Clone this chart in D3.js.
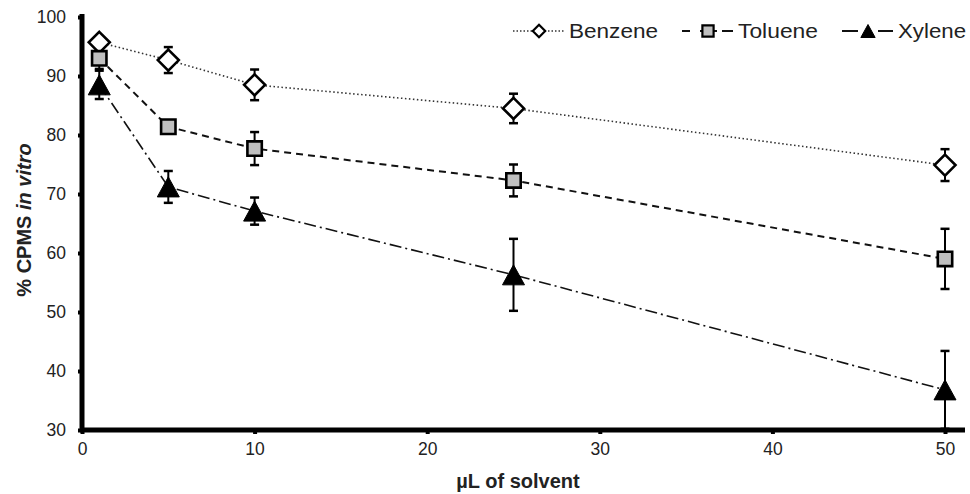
<!DOCTYPE html>
<html><head><meta charset="utf-8">
<script src="https://cdn.jsdelivr.net/npm/d3@7"></script>
<style>body{margin:0;background:#fff}svg{display:block}text{font-family:"Liberation Sans",Arial,sans-serif}</style>
</head><body><svg id="c" width="970" height="494"></svg>
<script>
const xValues = [1, 5, 10, 25, 50];
const seriesNames = ["Benzene", "Toluene", "Xylene"];
const benzene = [95.7, 92.7, 88.5, 84.5, 74.9];
const benzeneErr = [1.0, 2.2, 2.6, 2.5, 2.7];
const toluene = [93.0, 81.4, 77.7, 72.3, 59.0];
const tolueneErr = [1.8, 1.0, 2.8, 2.7, 5.1];
const xylene = [88.5, 71.2, 67.1, 56.3, 36.8];
const xyleneErr = [2.4, 2.7, 2.3, 6.1, 6.6];
const xTicks = [0, 10, 20, 30, 40, 50];
const yTicks = [30, 40, 50, 60, 70, 80, 90, 100];

const svg = d3.select("#c");
const x = d3.scaleLinear().domain([0, 50]).range([82, 945]);
const y = d3.scaleLinear().domain([30, 100]).range([430, 17]);

// marker shapes (unit paths, scaled by r)
const shapes = {
  diamond: r => `M0,${-r}L${r},0L0,${r}L${-r},0Z`,
  square: r => `M${-r},${-r}H${r}V${r}H${-r}Z`,
  triangle: r => `M0,${-r}L${r * 1.1},${r}L${-r * 1.1},${r}Z`
};
const styles = {
  Benzene: {dash: "1.5,2.5", width: 1.6, color: "#333", shape: "diamond", r: 10.5, fill: "#fff", stroke: "#000", sw: 2.6, legDash: "1.5,2", legR: 6.2},
  Toluene: {dash: "7,5", width: 2, color: "#111", shape: "square", r: 7.2, fill: "#c0c0c0", stroke: "#000", sw: 2.6, legDash: "8,10,17,5,11", legR: 5.6},
  Xylene: {dash: "12,4,2,4", width: 1.6, color: "#111", shape: "triangle", r: 10, fill: "#000", stroke: "#000", sw: 1, legDash: "16,20,15", legR: 6.5}
};
const data = [
  {name: "Benzene", vals: benzene, err: benzeneErr},
  {name: "Toluene", vals: toluene, err: tolueneErr},
  {name: "Xylene", vals: xylene, err: xyleneErr}
];

// axes
const yAxis = d3.axisLeft(y).tickValues(yTicks).tickSize(4).tickPadding(12);
const xAxis = d3.axisBottom(x).tickValues(xTicks).tickSize(4).tickPadding(9);
const gy = svg.append("g").attr("transform", "translate(82,0)").call(yAxis);
const gx = svg.append("g").attr("transform", "translate(0,430)").call(xAxis);
[gy, gx].forEach(g => {
  g.select(".domain").remove();
  g.selectAll(".tick line").attr("stroke", "#000").attr("stroke-width", 4);
  g.selectAll(".tick text").attr("font-size", 17.5).attr("fill", "#222").style("font-family", "Liberation Sans, Arial, sans-serif");
});
svg.append("line").attr("x1", 82).attr("x2", 82).attr("y1", y(100) - 3).attr("y2", 432).attr("stroke", "#000").attr("stroke-width", 5);
svg.append("line").attr("x1", 80).attr("x2", 965).attr("y1", 430).attr("y2", 430).attr("stroke", "#000").attr("stroke-width", 5);

// titles
svg.append("text").attr("x", 518).attr("y", 488).attr("text-anchor", "middle").attr("font-size", 20).attr("font-weight", "bold").attr("fill", "#222").text("µL of solvent");
const yt = svg.append("text").attr("transform", "translate(31,220) rotate(-90)").attr("text-anchor", "middle").attr("font-size", 20).attr("font-weight", "bold").attr("fill", "#222");
yt.append("tspan").text("% CPMS ");
yt.append("tspan").attr("font-style", "italic").text("in vitro");

// lines
const line = d3.line().x((d, i) => x(xValues[i])).y(d => y(d));
data.forEach(s => {
  const st = styles[s.name];
  svg.append("path").datum(s.vals).attr("d", line).attr("fill", "none")
    .attr("stroke", st.color).attr("stroke-width", st.width).attr("stroke-dasharray", st.dash);
});
// error bars
data.forEach(s => {
  const g = svg.append("g").attr("stroke", "#000").attr("stroke-width", 2);
  s.vals.forEach((v, i) => {
    const cx = x(xValues[i]);
    g.append("line").attr("x1", cx).attr("x2", cx).attr("y1", y(v - s.err[i])).attr("y2", y(v + s.err[i]));
    [v - s.err[i], v + s.err[i]].forEach(e => g.append("line").attr("x1", cx - 4.5).attr("x2", cx + 4.5).attr("y1", y(e)).attr("y2", y(e)).attr("stroke-width", 2.5));
  });
});
// markers
function marker(g, st, cx, cy, r) {
  g.append("path").attr("d", shapes[st.shape](r))
    .attr("transform", `translate(${cx},${cy})`)
    .attr("fill", st.fill).attr("stroke", st.stroke).attr("stroke-width", st.sw).attr("stroke-linejoin", "miter");
}
data.forEach(s => {
  const st = styles[s.name];
  const g = svg.append("g");
  s.vals.forEach((v, i) => marker(g, st, x(xValues[i]), y(v), st.r));
});

// legend
const legendX = [513, 682, 842];
const legendW = [89, 80, 68];
const legend = svg.append("g");
seriesNames.forEach((n, i) => {
  const st = styles[n];
  const lx = legendX[i];
  const ly = 31;
  legend.append("line").attr("x1", lx).attr("x2", lx + 51).attr("y1", ly).attr("y2", ly)
    .attr("stroke", st.color).attr("stroke-width", n === "Benzene" ? 1.6 : 2).attr("stroke-dasharray", st.legDash);
  const g = legend.append("g");
  marker(g, Object.assign({}, st, {sw: n === "Xylene" ? 1 : 2.2}), lx + 26, ly, st.legR);
  legend.append("text").attr("x", lx + 56).attr("y", ly + 7).attr("font-size", 20).attr("fill", "#222")
    .attr("textLength", legendW[i]).attr("lengthAdjust", "spacingAndGlyphs").text(n);
});
</script></body></html>
